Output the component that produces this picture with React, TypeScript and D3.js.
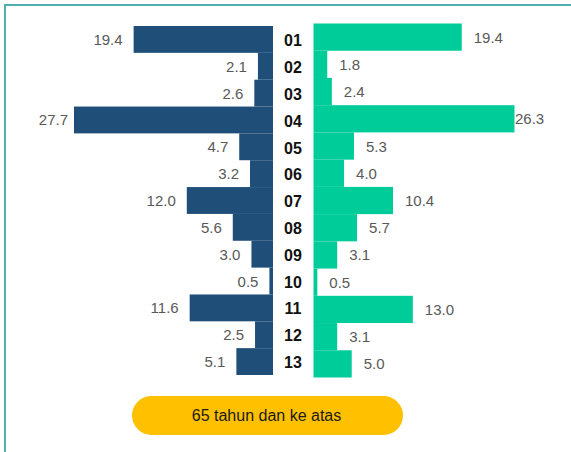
import React from "react";
import * as d3 from "d3";

const categories = ["01","02","03","04","05","06","07","08","09","10","11","12","13"];
const leftValues = [19.4,2.1,2.6,27.7,4.7,3.2,12.0,5.6,3.0,0.5,11.6,2.5,5.1];
const rightValues = [19.4,1.8,2.4,26.3,5.3,4.0,10.4,5.7,3.1,0.5,13.0,3.1,5.0];
const buttonLabel = "65 tahun dan ke atas";

const W = 571, H = 452;
const LEFT_COLOR = "#1F4E79";
const RIGHT_COLOR = "#00CC99";
const FONT = "'Liberation Sans', Arial, sans-serif";

export default function App() {
  const leftAxis = 273;
  const rightAxis = 313.5;
  const xL = d3.scaleLinear().domain([0, d3.max(leftValues)!]).range([0, 199]);
  const xR = d3.scaleLinear().domain([0, d3.max(rightValues)!]).range([0, 201]);
  const yL = d3.scaleBand<string>().domain(categories).range([26, 375]).padding(0);
  const yR = d3.scaleBand<string>().domain(categories).range([23.5, 377.5]).padding(0);
  const yC = d3.scaleBand<string>().domain(categories).range([27.4, 375.8]).padding(0);

  return (
    <svg width={W} height={H} style={{ position: "absolute", left: 0, top: 0, background: "#fff" }}>
      <rect x={5} y={5} width={W + 20} height={H + 20} fill="#fff" stroke="#4FAEAE" strokeWidth={2} />
      {categories.map((c, i) => {
        const v = leftValues[i];
        const w = xL(v);
        const y = yL(c)!;
        const bw = yL.bandwidth();
        const lx = Math.max(leftAxis - w - 11, 68);
        return (
          <g key={"l" + c}>
            <rect x={leftAxis - w} y={y} width={w} height={bw} fill={LEFT_COLOR} />
            <text x={lx} y={y + bw / 2} textAnchor="end" dominantBaseline="central"
              fontFamily={FONT} fontSize={15} fill="#595959">{v.toFixed(1)}</text>
          </g>
        );
      })}
      {categories.map((c, i) => {
        const v = rightValues[i];
        const w = xR(v);
        const y = yR(c)!;
        const bw = yR.bandwidth();
        const lx = Math.min(rightAxis + w + 12, 515);
        return (
          <g key={"r" + c}>
            <rect x={rightAxis} y={y} width={w} height={bw} fill={RIGHT_COLOR} />
            <text x={lx} y={y + bw / 2} textAnchor="start" dominantBaseline="central"
              fontFamily={FONT} fontSize={15} fill="#595959">{v.toFixed(1)}</text>
          </g>
        );
      })}
      {categories.map((c) => (
        <text key={"c" + c} x={293} y={yC(c)! + yC.bandwidth() / 2} textAnchor="middle"
          dominantBaseline="central" fontFamily={FONT} fontSize={16} fontWeight="bold" fill="#111">{c}</text>
      ))}
      <rect x={132} y={396} width={271} height={39} rx={19.5} ry={19.5} fill="#FFC000" />
      <text x={266.5} y={415.5} textAnchor="middle" dominantBaseline="central"
        fontFamily={FONT} fontSize={16} fill="#1a1a1a">{buttonLabel}</text>
    </svg>
  );
}
